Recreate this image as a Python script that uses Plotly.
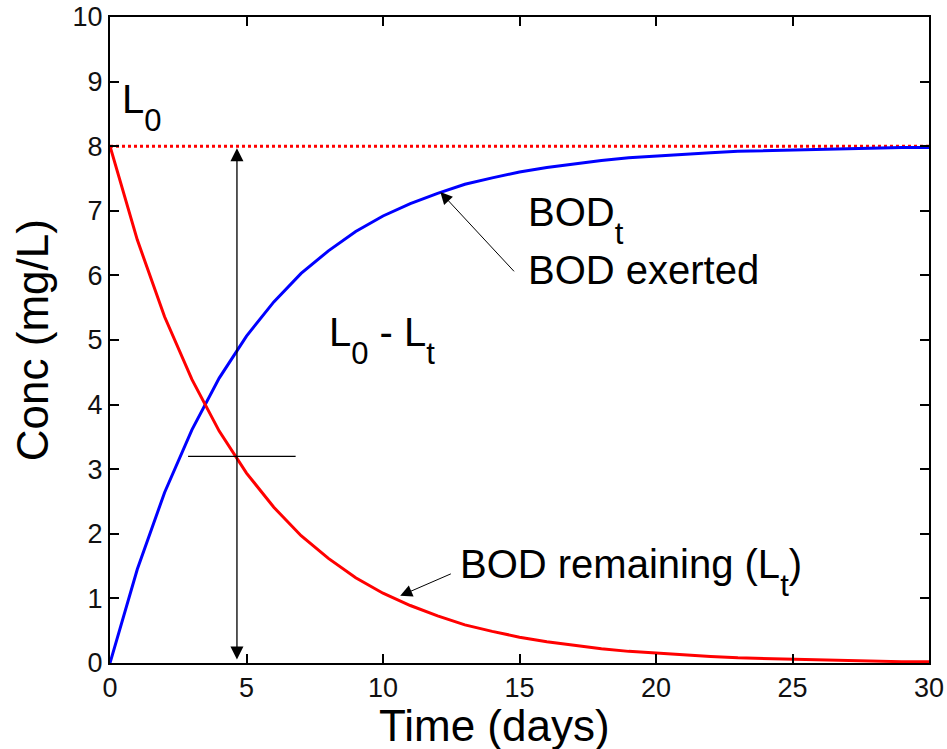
import plotly.graph_objects as go

# Time (days)
days = list(range(0, 31))
# BOD remaining, L_t (mg/L)
bod_remaining = [8.00, 6.55, 5.36, 4.39, 3.59, 2.94, 2.41, 1.97, 1.62, 1.32,
                 1.08, 0.89, 0.73, 0.59, 0.49, 0.40, 0.33, 0.27, 0.22, 0.18,
                 0.15, 0.12, 0.10, 0.08, 0.07, 0.05, 0.04, 0.04, 0.03, 0.02, 0.02]
# BOD exerted, BOD_t (mg/L)
bod_exerted = [0.00, 1.45, 2.64, 3.61, 4.41, 5.06, 5.59, 6.03, 6.38, 6.68,
               6.92, 7.11, 7.27, 7.41, 7.51, 7.60, 7.67, 7.73, 7.78, 7.82,
               7.85, 7.88, 7.90, 7.92, 7.93, 7.95, 7.96, 7.96, 7.97, 7.98, 7.98]
# Ultimate BOD L0
L0_x = [0, 30]
L0_y = [8, 8]

x_ticks = [0, 5, 10, 15, 20, 25, 30]
y_ticks = list(range(0, 11))

FONT = "Liberation Sans, Arial, sans-serif"


def sub(s):
    return ('<span style="font-size:31px;baseline-shift:-18px">%s</span>' % s)


fig = go.Figure()
fig.add_trace(go.Scatter(x=L0_x, y=L0_y, mode="lines",
                         line=dict(color="#ff0000", width=3, dash="dot"),
                         showlegend=False, hoverinfo="skip"))
fig.add_trace(go.Scatter(x=days, y=bod_exerted, mode="lines",
                         line=dict(color="#0000ff", width=3),
                         showlegend=False))
fig.add_trace(go.Scatter(x=days, y=bod_remaining, mode="lines",
                         line=dict(color="#ff0000", width=3),
                         showlegend=False))

# crosshair at t ~ 4.65 days
cross_x = [2.86, 6.8]
cross_y = [3.2, 3.2]
fig.add_shape(type="line", x0=cross_x[0], x1=cross_x[1], y0=cross_y[0], y1=cross_y[1],
              line=dict(color="black", width=1.3), xref="x", yref="y")

annotations = []
# double-headed vertical arrow (L0 - Lt span)
annotations.append(dict(x=4.65, y=7.97, ax=4.65, ay=0.03, xref="x", yref="y",
                        axref="x", ayref="y", showarrow=True, arrowhead=2,
                        startarrowhead=2, arrowside="end+start", arrowsize=2,
                        startarrowsize=2, arrowwidth=1.3, arrowcolor="black", text=""))
# arrow to BOD exerted curve
annotations.append(dict(x=12.1, y=7.29, ax=14.85, ay=6.04, xref="x", yref="y",
                        axref="x", ayref="y", showarrow=True, arrowhead=2,
                        arrowsize=2.4, arrowwidth=1, arrowcolor="black", text=""))
# arrow to BOD remaining curve
annotations.append(dict(x=10.63, y=1.04, ax=12.54, ay=1.39, xref="x", yref="y",
                        axref="x", ayref="y", showarrow=True, arrowhead=2,
                        arrowsize=2.4, arrowwidth=1, arrowcolor="black", text=""))


def label(text, x, y):
    return dict(x=x, y=y, xref="x", yref="y", text=text, showarrow=False,
                xanchor="left", yanchor="middle",
                font=dict(family=FONT, size=40, color="black"))


annotations += [
    label("L" + sub("0"), 0.35, 8.6),
    label("BOD" + sub("t"), 15.25, 6.85),
    label("BOD exerted", 15.25, 6.08),
    label("L" + sub("0") + " - L" + sub("t"), 7.95, 5.0),
    label("BOD remaining (L" + sub("t") + ")", 12.75, 1.4),
]

# axis titles
annotations.append(dict(x=0.47, y=-0.056, xref="paper", yref="paper", text="Time (days)",
                        showarrow=False, xanchor="center", yanchor="top",
                        font=dict(family=FONT, size=44, color="black")))
annotations.append(dict(x=-0.095, y=0.5, xref="paper", yref="paper", text="Conc (mg/L)",
                        showarrow=False, xanchor="center", yanchor="middle", textangle=-90,
                        font=dict(family=FONT, size=44, color="black")))

axis_common = dict(showline=True, linecolor="black", linewidth=2, mirror="ticks",
                   ticks="inside", ticklen=9, tickwidth=2, tickcolor="black",
                   showgrid=False, zeroline=False, automargin=False,
                   tickfont=dict(family=FONT, size=27, color="#111"))

fig.update_layout(
    width=947, height=749,
    margin=dict(l=110, r=18, t=17, b=86),
    plot_bgcolor="white", paper_bgcolor="white",
    xaxis=dict(range=[0, 30], tickvals=x_ticks, ticktext=[str(v) for v in x_ticks],
               **axis_common),
    yaxis=dict(range=[0, 10], tickvals=y_ticks, ticktext=[str(v) for v in y_ticks],
               **axis_common),
    annotations=annotations,
    showlegend=False,
)

fig.write_html("out.html")
